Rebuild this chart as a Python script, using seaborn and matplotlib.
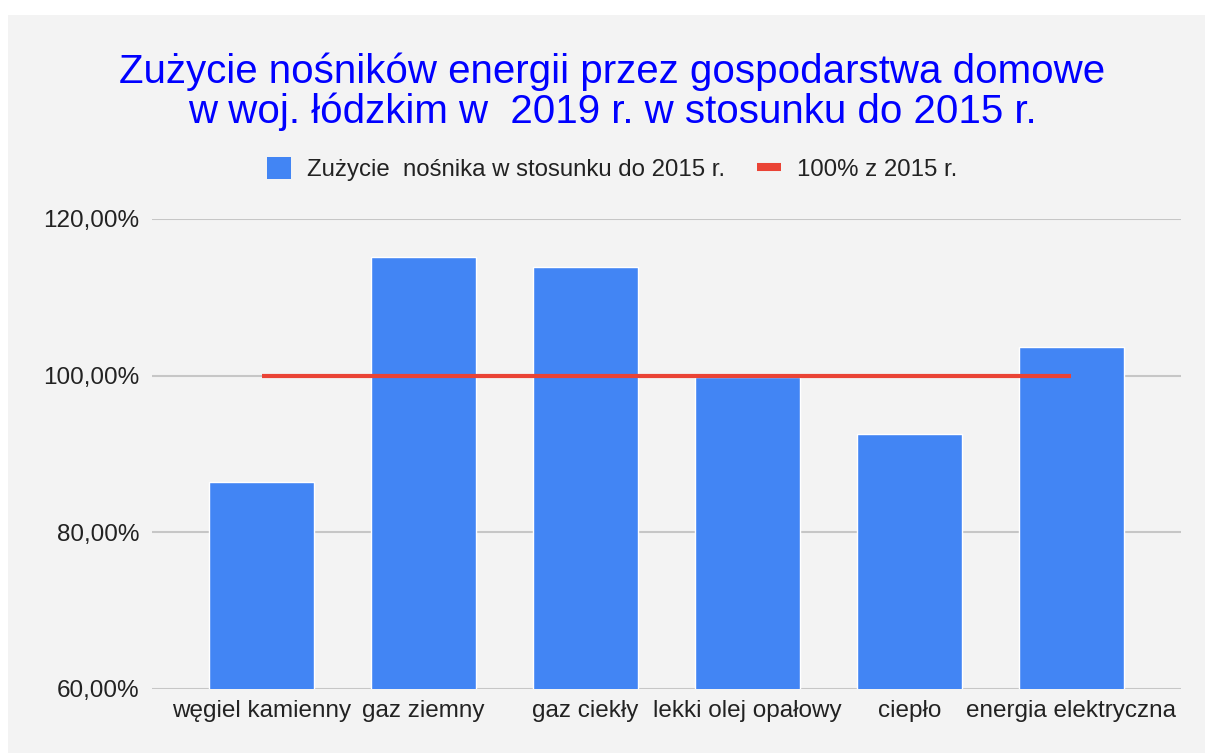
import matplotlib
matplotlib.use("Agg")
import matplotlib.pyplot as plt
import seaborn as sns
import numpy as np
from matplotlib.patches import Patch, Rectangle
from matplotlib.lines import Line2D
from matplotlib.ticker import FuncFormatter, FixedLocator

categories = ["węgiel kamienny", "gaz ziemny", "gaz ciekły", "lekki olej opałowy",
              "ciepło", "energia elektryczna"]
values = [86.4, 115.2, 113.9, 99.8, 92.5, 103.6]
reference = [100.0, 100.0, 100.0, 100.0, 100.0, 100.0]
yticks = [60, 80, 100, 120]
title = "Zużycie nośników energii przez gospodarstwa domowe\nw woj. łódzkim w  2019 r. w stosunku do 2015 r."
legend_labels = ["Zużycie  nośnika w stosunku do 2015 r.", "100% z 2015 r."]

BLUE = "#4285f4"
RED = "#ea4335"
BG = "#f3f3f3"
TXT = "#222222"

sns.set_theme(style="white")
plt.rcParams["font.family"] = ["Liberation Sans", "DejaVu Sans"]

fig = plt.figure(figsize=(12.06, 7.53), dpi=100, facecolor="white")
fig.patches.append(Rectangle((8 / 1206, 0), (1205 - 8) / 1206, 1 - 15 / 753,
                             transform=fig.transFigure, facecolor=BG,
                             edgecolor="none", zorder=-10))

ax = fig.add_axes([152 / 1206, 1 - 689 / 753, (1181 - 152) / 1206, (689 - 219) / 753])
ax.set_facecolor("none")

sns.barplot(x=categories, y=values, color=BLUE, saturation=1, width=0.65, ax=ax, zorder=3)
ax.plot(np.arange(len(categories)), reference, color=RED, linewidth=3.0, zorder=4,
        solid_capstyle="butt")

ax.set_ylim(60, 120)
ax.set_xlim(-0.676, len(categories) - 1 + 0.676)
ax.yaxis.set_major_locator(FixedLocator(yticks))
ax.yaxis.set_major_formatter(FuncFormatter(lambda v, p: f"{v:.2f}".replace(".", ",") + "%"))
ax.grid(axis="y", color="#c6c6c6", linewidth=1.5, zorder=0)
ax.set_axisbelow(True)
for s in ax.spines.values():
    s.set_visible(False)
ax.tick_params(axis="both", length=0, labelsize=17.5, labelcolor=TXT)
ax.tick_params(axis="y", pad=9)
ax.tick_params(axis="x", pad=8)
ax.set_xlabel("")
ax.set_ylabel("")

fig.text(612 / 1206, 1 - 92 / 753, title, ha="center", va="center", color="#0000ff",
         fontsize=29, linespacing=1.06)

handles = [Patch(facecolor=BLUE, edgecolor="none"),
           Line2D([0], [0], color=RED, linewidth=5.8, solid_capstyle="butt")]
fig.legend(handles, legend_labels, loc="center", bbox_to_anchor=(612 / 1206, 1 - 169 / 753),
           ncol=2, frameon=False, fontsize=17.3, labelcolor=TXT,
           handlelength=1.0, handleheight=1.0, handletextpad=0.65, columnspacing=1.35)

fig.savefig("out.png", dpi=100, facecolor="white")
